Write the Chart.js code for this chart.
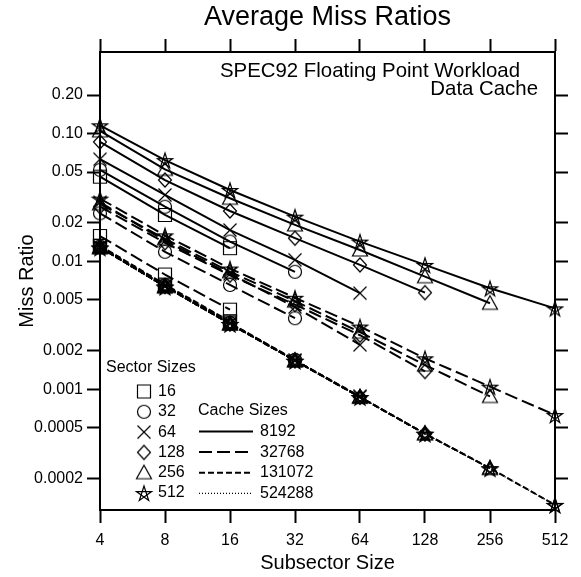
<!DOCTYPE html>
<html>
<head>
<meta charset="utf-8">
<title>Average Miss Ratios</title>
<script src="https://cdn.jsdelivr.net/npm/chart.js@4.4.1/dist/chart.umd.min.js"></script>
<style>
  html, body { margin: 0; padding: 0; background: #fff; }
  #wrap { width: 581px; height: 577px; }
</style>
</head>
<body>
<div id="wrap"><canvas id="missChart" width="581" height="577"></canvas></div>
<script>
// x positions of the measurements
const subsectorSizes = [4, 8, 16, 32, 64, 128, 256, 512];
const sectorSizes = [16, 32, 64, 128, 256, 512];
const cacheSizes = [8192, 32768, 131072, 524288];

const yTickValues = [0.0002, 0.0005, 0.001, 0.002, 0.005, 0.01, 0.02, 0.05, 0.1, 0.2];
const yTickLabels = ["0.0002", "0.0005", "0.001", "0.002", "0.005", "0.01", "0.02", "0.05", "0.10", "0.20"];

// 8192 byte cache (solid)
const c8k_s16 = [0.046, 0.0231, 0.0127];
const c8k_s32 = [0.052, 0.0268, 0.0143, 0.0083];
const c8k_s64 = [0.063, 0.0331, 0.0176, 0.0103, 0.00565];
const c8k_s128 = [0.086, 0.0433, 0.0248, 0.0152, 0.0094, 0.0057];
const c8k_s256 = [0.105, 0.0525, 0.0312, 0.0193, 0.0123, 0.0076, 0.00471];
const c8k_s512 = [0.116, 0.062, 0.0362, 0.0224, 0.0143, 0.0094, 0.00617, 0.0043];

// 32768 byte cache (long dash)
const c32k_s16 = [0.0158, 0.0079, 0.0042];
const c32k_s32 = [0.0238, 0.0119, 0.00655, 0.0036];
const c32k_s64 = [0.029, 0.0145, 0.008, 0.0044, 0.00223];
const c32k_s128 = [0.0268, 0.014, 0.0078, 0.0046, 0.00265, 0.00138];
const c32k_s256 = [0.0282, 0.015, 0.0083, 0.0049, 0.0028, 0.00155, 0.00088];
const c32k_s512 = [0.031, 0.016, 0.0088, 0.0052, 0.0031, 0.00175, 0.00105, 0.00063];

// 131072 byte cache (short dash)
const c128k_s16 = [0.0133, 0.0066, 0.0034];
const c128k_s32 = [0.0131, 0.0065, 0.0033, 0.0017];
const c128k_s64 = [0.013, 0.0064, 0.00328, 0.00169, 0.00088];
const c128k_s128 = [0.0129, 0.0064, 0.00326, 0.00168, 0.00087, 0.00045];
const c128k_s256 = [0.0129, 0.0064, 0.00325, 0.00168, 0.00087, 0.00045, 0.000242];
const c128k_s512 = [0.0129, 0.0064, 0.00325, 0.00168, 0.00087, 0.00045, 0.000242, 0.000125];

// 524288 byte cache (dotted)
const c512k_s16 = [0.0132, 0.0065, 0.0034];
const c512k_s32 = [0.013, 0.0065, 0.0033, 0.0017];
const c512k_s64 = [0.0129, 0.0064, 0.00327, 0.00168, 0.00088];
const c512k_s128 = [0.0129, 0.0064, 0.00325, 0.00168, 0.00087, 0.00045];
const c512k_s256 = [0.0128, 0.0063, 0.00324, 0.00167, 0.00087, 0.00045, 0.000241];
const c512k_s512 = [0.0128, 0.0063, 0.00324, 0.00167, 0.00087, 0.00045, 0.000241, 0.000125];

const seriesByCache = [
  [c8k_s16, c8k_s32, c8k_s64, c8k_s128, c8k_s256, c8k_s512],
  [c32k_s16, c32k_s32, c32k_s64, c32k_s128, c32k_s256, c32k_s512],
  [c128k_s16, c128k_s32, c128k_s64, c128k_s128, c128k_s256, c128k_s512],
  [c512k_s16, c512k_s32, c512k_s64, c512k_s128, c512k_s256, c512k_s512],
];

const cacheDashes = [[], [13, 5], [6, 3], [1, 2]];
const cacheWidths = [2, 2, 2, 1.3];
const markerShapes = ["square", "circle", "cross", "diamond", "triangle", "star"];

const FONT = '"Liberation Sans", Arial, Helvetica, sans-serif';
Chart.defaults.font.family = FONT;
Chart.defaults.color = "#000";

// hollow black markers drawn on small canvases, used as pointStyle
function makeMarker(shape) {
  const size = 20;
  const c = document.createElement("canvas");
  c.width = size;
  c.height = size;
  const g = c.getContext("2d");
  const m = size / 2;
  g.strokeStyle = "#000";
  g.lineWidth = 1.2;
  g.beginPath();
  if (shape === "square") {
    g.rect(m - 6.5, m - 6.5, 13, 13);
  } else if (shape === "circle") {
    g.arc(m, m, 6.5, 0, Math.PI * 2);
  } else if (shape === "cross") {
    g.moveTo(m - 6.5, m - 6.5); g.lineTo(m + 6.5, m + 6.5);
    g.moveTo(m + 6.5, m - 6.5); g.lineTo(m - 6.5, m + 6.5);
  } else if (shape === "diamond") {
    g.moveTo(m, m - 7); g.lineTo(m + 6.5, m); g.lineTo(m, m + 7); g.lineTo(m - 6.5, m);
    g.closePath();
  } else if (shape === "triangle") {
    g.moveTo(m, m - 7.5); g.lineTo(m + 7.5, m + 6); g.lineTo(m - 7.5, m + 6);
    g.closePath();
  } else if (shape === "star") {
    for (let k = 0; k < 5; k++) {
      const a = -Math.PI / 2 + k * (4 * Math.PI / 5);
      const px = m + 8 * Math.cos(a), py = m + 1 + 8 * Math.sin(a);
      if (k === 0) g.moveTo(px, py); else g.lineTo(px, py);
    }
    g.closePath();
  }
  g.stroke();
  return c;
}
const markers = markerShapes.map(makeMarker);

const datasets = [];
seriesByCache.forEach((group, ci) => {
  group.forEach((vals, si) => {
    datasets.push({
      label: cacheSizes[ci] + " / " + sectorSizes[si],
      data: vals.map((v, i) => ({ x: subsectorSizes[i], y: v })),
      borderColor: "#000",
      backgroundColor: "#000",
      borderWidth: cacheWidths[ci],
      borderDash: cacheDashes[ci],
      pointStyle: markers[si],
      pointRadius: 7,
      fill: false,
      tension: 0,
      clip: false,
    });
  });
});

const setTicks = (values) => (scale) => {
  scale.ticks = values.map((v) => ({ value: v }));
};
const gridOpts = {
  display: true,
  drawOnChartArea: false,
  drawTicks: true,
  tickLength: 13,
  tickWidth: 2,
  tickColor: "#000",
};
const borderOpts = { display: true, color: "#000", width: 2 };

const textPlugin = {
  id: "legendAndNotes",
  afterDraw(chart) {
    const ctx = chart.ctx;
    ctx.save();
    ctx.fillStyle = "#000";
    ctx.strokeStyle = "#000";
    ctx.textBaseline = "middle";

    ctx.font = "20.4px " + FONT;
    ctx.textAlign = "left";
    ctx.fillText("SPEC92 Floating Point Workload", 220, 71.5);
    ctx.textAlign = "right";
    ctx.fillText("Data Cache", 538, 89);

    ctx.textAlign = "left";
    ctx.font = "16px " + FONT;
    ctx.fillText("Sector Sizes", 106, 368);
    sectorSizes.forEach((s, i) => {
      const y = 391.5 + i * 20.3;
      const mk = markers[i];
      ctx.drawImage(mk, 144 - mk.width / 2, y - mk.height / 2);
      ctx.fillText(String(s), 158, y);
    });

    ctx.fillText("Cache Sizes", 198, 411);
    cacheSizes.forEach((c, i) => {
      const y = 431.5 + i * 20.6;
      ctx.lineWidth = cacheWidths[i];
      ctx.setLineDash(cacheDashes[i]);
      ctx.beginPath();
      ctx.moveTo(199, y);
      ctx.lineTo(253, y);
      ctx.stroke();
      ctx.setLineDash([]);
      ctx.fillText(String(c), 260, y);
    });
    ctx.restore();
  },
};

new Chart(document.getElementById("missChart"), {
  type: "line",
  data: { datasets },
  options: {
    responsive: false,
    animation: false,
    layout: { padding: 0 },
    plugins: {
      legend: { display: false },
      tooltip: { enabled: false },
      title: {
        display: true,
        fullSize: false,
        text: "Average Miss Ratios",
        font: { size: 27, weight: "normal" },
        color: "#000",
        padding: { top: 1, bottom: 0 },
      },
    },
    scales: {
      x: {
        type: "logarithmic",
        position: "bottom",
        min: 4,
        max: 512,
        afterBuildTicks: setTicks(subsectorSizes),
        afterFit: (s) => { s.height = 67; },
        ticks: { callback: (v) => String(v), font: { size: 16 }, color: "#000", padding: 8, maxRotation: 0, autoSkip: false },
        grid: gridOpts,
        border: borderOpts,
        title: { display: true, text: "Subsector Size", font: { size: 20 }, color: "#000", padding: { top: 0, bottom: 2 } },
      },
      x2: {
        type: "logarithmic",
        position: "top",
        min: 4,
        max: 512,
        afterBuildTicks: setTicks(subsectorSizes),
        afterFit: (s) => { s.height = 18.6; },
        ticks: { display: false },
        grid: gridOpts,
        border: borderOpts,
      },
      y: {
        type: "logarithmic",
        position: "left",
        min: 0.000114,
        max: 0.434,
        afterBuildTicks: setTicks(yTickValues),
        afterFit: (s) => { s.width = 100; },
        ticks: { callback: (v, i) => yTickLabels[i], font: { size: 16 }, color: "#000", padding: 4, autoSkip: false },
        grid: gridOpts,
        border: borderOpts,
        title: { display: true, text: "Miss Ratio", font: { size: 20 }, color: "#000", padding: { top: 15, bottom: 0 } },
      },
      y2: {
        type: "logarithmic",
        position: "right",
        min: 0.000114,
        max: 0.434,
        afterBuildTicks: setTicks(yTickValues),
        afterFit: (s) => { s.width = 26; },
        ticks: { display: false },
        grid: gridOpts,
        border: borderOpts,
      },
    },
  },
  plugins: [textPlugin],
});
</script>
</body>
</html>
